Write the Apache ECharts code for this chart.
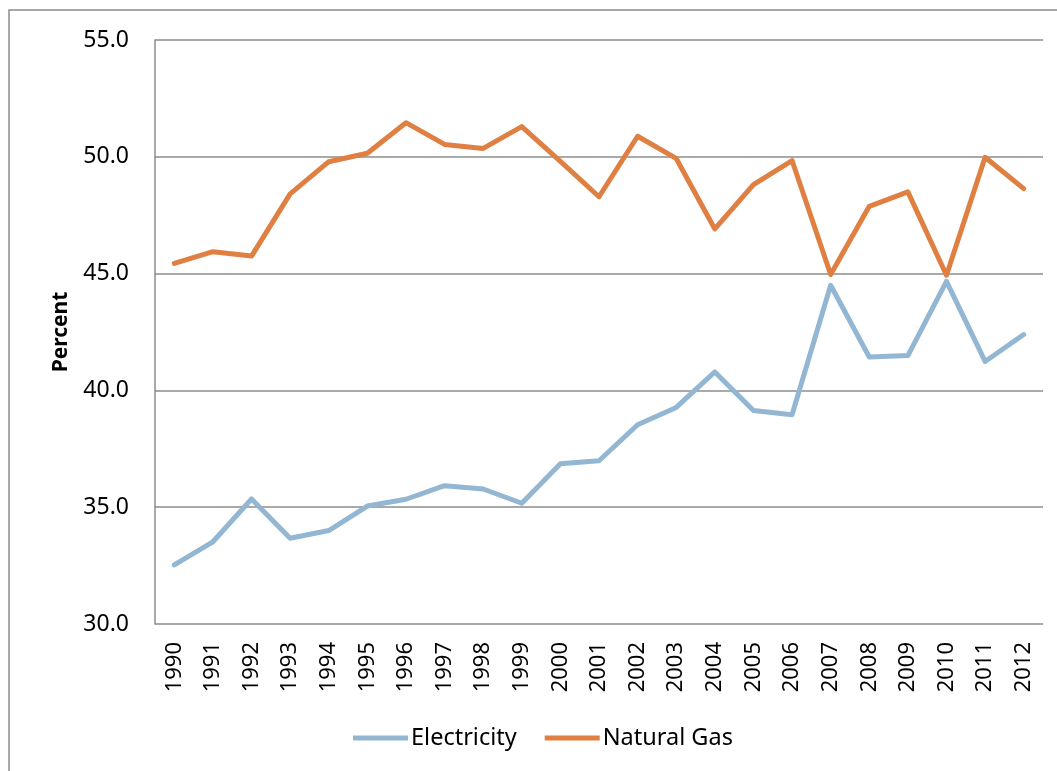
<!DOCTYPE html>
<html>
<head>
<meta charset="utf-8">
<script src="https://cdn.jsdelivr.net/npm/echarts@6/dist/echarts.min.js"></script>
<style>
  html, body { margin: 0; padding: 0; background: #fff; }
  #chart { width: 1057px; height: 771px; }
</style>
</head>
<body>
<div id="chart"></div>
<script>
var years = ['1990', '1991', '1992', '1993', '1994', '1995', '1996', '1997', '1998', '1999', '2000',
    '2001', '2002', '2003', '2004', '2005', '2006', '2007', '2008', '2009', '2010', '2011', '2012'];
var electricity = [32.53, 33.52, 35.35, 33.67, 34.0, 35.05, 35.34, 35.92, 35.78, 35.17, 36.86,
    36.99, 38.53, 39.27, 40.79, 39.14, 38.96, 44.5, 41.43, 41.49, 44.67, 41.24, 42.39];
var naturalGas = [45.44, 45.94, 45.75, 48.41, 49.79, 50.15, 51.46, 50.53, 50.36, 51.29, 49.8,
    48.29, 50.88, 49.93, 46.91, 48.81, 49.84, 44.96, 47.88, 48.5, 44.93, 49.98, 48.64];

var chart = echarts.init(document.getElementById('chart'));
var font = 'Noto Sans';
var gray = '#8c8c8c';

chart.setOption({
    animation: false,
    backgroundColor: '#fff',
    graphic: [{
        type: 'rect',
        shape: { x: 9, y: 10, width: 1200, height: 900 },
        style: { fill: 'none', stroke: gray, lineWidth: 1.5 },
        silent: true
    }],
    grid: { left: 155, right: 14, top: 40, bottom: 147 },
    legend: {
        bottom: 16,
        left: 348,
        itemWidth: 55,
        itemHeight: 5,
        itemGap: 28,
        icon: 'rect',
        textStyle: { fontFamily: font, fontSize: 23.5, color: '#000', padding: [0, 0, 0, -2] },
        data: ['Electricity', 'Natural Gas']
    },
    xAxis: {
        type: 'category',
        data: years,
        boundaryGap: true,
        axisLine: { show: false },
        axisTick: { show: false },
        axisLabel: {
            rotate: 90,
            margin: 18,
            fontFamily: font,
            fontSize: 22,
            color: '#000'
        }
    },
    yAxis: {
        type: 'value',
        min: 30,
        max: 55,
        interval: 5,
        name: 'Percent',
        nameLocation: 'middle',
        nameGap: 83,
        nameTextStyle: { fontFamily: font, fontSize: 21, fontWeight: 'bold', color: '#000' },
        axisLine: { show: true, lineStyle: { color: gray, width: 1.5 } },
        axisTick: { show: false },
        splitLine: { lineStyle: { color: gray, width: 1.5 } },
        axisLabel: {
            margin: 26,
            fontFamily: font,
            fontSize: 23,
            color: '#000',
            formatter: function (v) { return v.toFixed(1); }
        }
    },
    series: [{
        name: 'Electricity',
        type: 'line',
        data: electricity,
        symbol: 'none',
        color: '#93b6d3',
        lineStyle: { width: 5, color: '#93b6d3', cap: 'round', join: 'round' }
    }, {
        name: 'Natural Gas',
        type: 'line',
        data: naturalGas,
        symbol: 'none',
        color: '#e07f42',
        lineStyle: { width: 5, color: '#e07f42', cap: 'round', join: 'round' }
    }]
});
</script>
</body>
</html>
